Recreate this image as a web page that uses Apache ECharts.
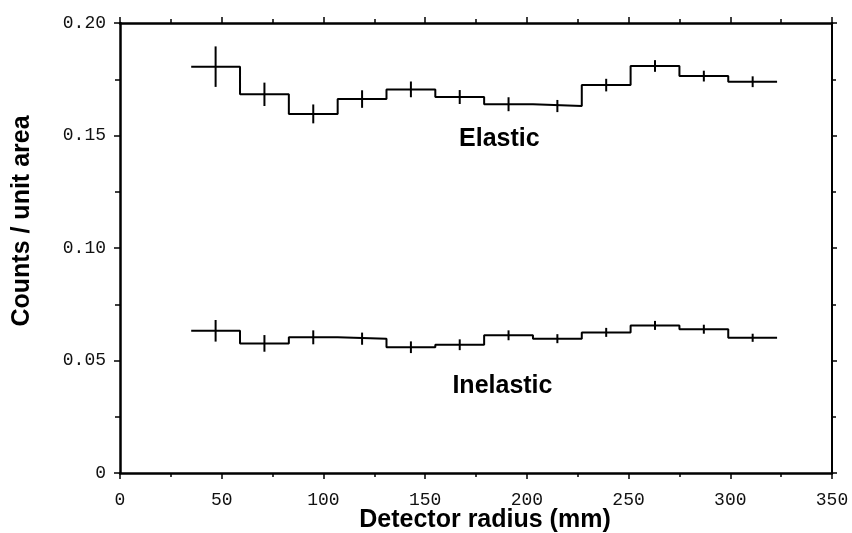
<!DOCTYPE html>
<html>
<head>
<meta charset="utf-8">
<script src="https://cdn.jsdelivr.net/npm/echarts@6/dist/echarts.min.js"></script>
<style>html,body{margin:0;padding:0;background:#fff}#c{width:852px;height:533px}</style>
</head>
<body>
<div id="c"></div>
<script>
// ---- data ----
var binEdges = [35, 59, 83, 107, 131, 155, 179, 203, 227, 251, 275, 299, 323];
var elasticValues = [0.1806, 0.1683, 0.1596, 0.1662, 0.1705, 0.1671, 0.1639, 0.1631, 0.1724, 0.1809, 0.1764, 0.1739];
var elasticErrors = [0.0090, 0.0052, 0.0042, 0.0039, 0.0035, 0.0031, 0.0031, 0.0027, 0.0028, 0.0026, 0.0024, 0.0024];
var inelasticValues = [0.0632, 0.0576, 0.0603, 0.0597, 0.0559, 0.0570, 0.0612, 0.0597, 0.0625, 0.0656, 0.0639, 0.0601];
var inelasticErrors = [0.0048, 0.0037, 0.0031, 0.0027, 0.0026, 0.0024, 0.0022, 0.0020, 0.0020, 0.0020, 0.0020, 0.0018];
var xTicks = [0, 50, 100, 150, 200, 250, 300, 350];
var yTickLabels = ['0', '0.05', '0.10', '0.15', '0.20'];
var curveLabels = [
  {name: 'Elastic', x: 186.5, y: 0.1485},
  {name: 'Inelastic', x: 188, y: 0.0388}
];

function stepPoints(vals) {
  var pts = [];
  for (var i = 0; i < vals.length; i++) {
    pts.push([binEdges[i], vals[i]]);
    pts.push([binEdges[i + 1], vals[i]]);
  }
  return pts;
}
function errPoints(vals, errs) {
  return vals.map(function (v, i) {
    return [(binEdges[i] + binEdges[i + 1]) / 2, v, errs[i]];
  });
}
function errRender(params, api) {
  var x = api.value(0), v = api.value(1), e = api.value(2);
  var p1 = api.coord([x, v - e]), p2 = api.coord([x, v + e]);
  return {type: 'line', shape: {x1: p1[0], y1: p1[1], x2: p2[0], y2: p2[1]},
          style: {stroke: '#000', lineWidth: 2}};
}
function labelRender(params, api) {
  var p = api.coord([api.value(0), api.value(1)]);
  return {type: 'text', x: p[0], y: p[1],
          style: {text: curveLabels[params.dataIndex].name, font: 'bold 25px "Liberation Sans"',
                  fill: '#000', textAlign: 'center', textVerticalAlign: 'middle'}};
}

var monoFont = 'Liberation Mono';
var axisLine = {show: true, onZero: false, lineStyle: {color: '#000', width: 2.5}};
var chart = echarts.init(document.getElementById('c'));
chart.setOption({
  animation: false,
  backgroundColor: '#fff',
  grid: {left: 120, right: 20, top: 23, bottom: 60},
  xAxis: [{
    type: 'value', min: 0, max: 350, interval: 50, position: 'bottom',
    axisLine: axisLine,
    axisTick: {show: true, inside: false, length: 6, lineStyle: {color: '#000', width: 1.5}},
    minorTick: {show: true, splitNumber: 2, length: 4, lineStyle: {color: '#000', width: 1.5}},
    splitLine: {show: false},
    axisLabel: {margin: 18, fontFamily: monoFont, fontSize: 18, color: '#111'}
  }, {
    type: 'value', min: 0, max: 350, interval: 50, position: 'top',
    axisLine: axisLine,
    axisTick: {show: true, inside: false, length: 6, lineStyle: {color: '#000', width: 1.5}},
    minorTick: {show: true, splitNumber: 2, length: 4, lineStyle: {color: '#000', width: 1.5}},
    splitLine: {show: false},
    axisLabel: {show: false}
  }],
  yAxis: [{
    type: 'value', min: 0, max: 0.2, interval: 0.05, position: 'left',
    axisLine: axisLine,
    axisTick: {show: true, inside: false, length: 6, lineStyle: {color: '#000', width: 1.5}},
    minorTick: {show: true, splitNumber: 2, length: 5, lineStyle: {color: '#000', width: 1.5}},
    splitLine: {show: false},
    axisLabel: {margin: 14, fontFamily: monoFont, fontSize: 18, color: '#111',
      formatter: function (v) { return yTickLabels[Math.round(v / 0.05)]; }}
  }, {
    type: 'value', min: 0, max: 0.2, interval: 0.05, position: 'right',
    axisLine: {show: true, onZero: false, lineStyle: {color: '#000', width: 2}},
    axisTick: {show: true, inside: false, length: 5, lineStyle: {color: '#000', width: 1.5}},
    minorTick: {show: true, splitNumber: 2, length: 4, lineStyle: {color: '#000', width: 1.5}},
    splitLine: {show: false},
    axisLabel: {show: false}
  }],
  series: [
    {type: 'line', data: stepPoints(elasticValues), symbol: 'none',
     lineStyle: {color: '#000', width: 2}},
    {type: 'line', data: stepPoints(inelasticValues), symbol: 'none',
     lineStyle: {color: '#000', width: 2}},
    {type: 'custom', data: errPoints(elasticValues, elasticErrors), renderItem: errRender},
    {type: 'custom', data: errPoints(inelasticValues, inelasticErrors), renderItem: errRender},
    {type: 'custom', data: curveLabels.map(function (d) { return [d.x, d.y]; }), renderItem: labelRender}
  ],
  graphic: [
    {type: 'text', x: 485, y: 520,
     style: {text: 'Detector radius (mm)', font: 'bold 25px "Liberation Sans"', fill: '#000',
       textAlign: 'center', textVerticalAlign: 'middle'}},
    {type: 'text', x: 22, y: 221, rotation: Math.PI / 2,
     style: {text: 'Counts / unit area', font: 'bold 25px "Liberation Sans"', fill: '#000',
       textAlign: 'center', textVerticalAlign: 'middle'}}
  ]
});
</script>
</body>
</html>
